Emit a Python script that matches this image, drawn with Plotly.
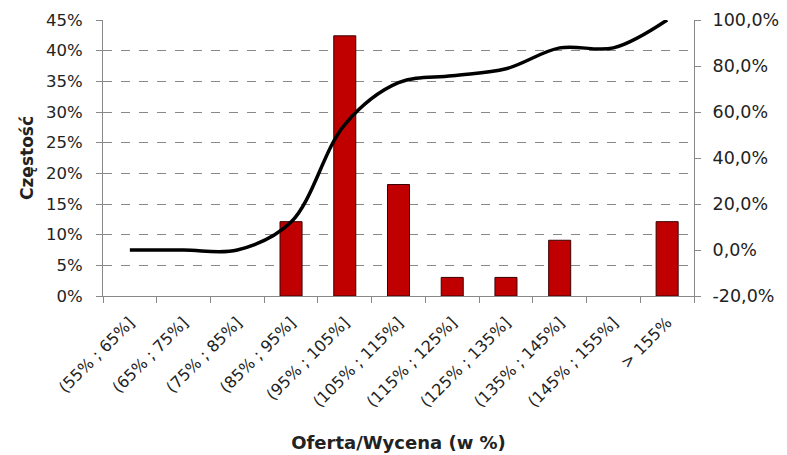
import plotly.graph_objects as go

categories = ["(55% ; 65%]", "(65% ; 75%]", "(75% ; 85%]", "(85% ; 95%]",
              "(95% ; 105%]", "(105% ; 115%]", "(115% ; 125%]", "(125% ; 135%]",
              "(135% ; 145%]", "(145% ; 155%]", "> 155%"]
# frequency of each offer/valuation bracket (share of 33 cases)
frequency = [0.0, 0.0, 0.0, 0.1212, 0.4242, 0.1818, 0.0303, 0.0303, 0.0909, 0.0, 0.1212]
# cumulative share
cumulative = [0.0, 0.0, 0.0, 0.1212, 0.5455, 0.7273, 0.7576, 0.7879, 0.8788, 0.8788, 1.0]

left_ticks = [i * 0.05 for i in range(10)]
left_labels = [f"{i * 5}%" for i in range(10)]
right_ticks = [-0.2, 0.0, 0.2, 0.4, 0.6, 0.8, 1.0]
right_labels = ["-20,0%", "0,0%", "20,0%", "40,0%", "60,0%", "80,0%", "100,0%"]

font_family = "'DejaVu Sans', sans-serif"

# empty brackets get no outline so nothing is drawn on the baseline
outline_widths = [1 if v > 0 else 0 for v in frequency]

fig = go.Figure()
fig.add_trace(go.Bar(
    x=categories, y=frequency,
    marker=dict(color="#C00000", line=dict(color="#3a0000", width=outline_widths)),
    yaxis="y", showlegend=False,
))
fig.add_trace(go.Scatter(
    x=categories, y=cumulative, mode="lines",
    line=dict(color="black", width=3.5, shape="spline", smoothing=1.0),
    yaxis="y2", showlegend=False,
))

fig.update_layout(
    width=787, height=455,
    margin=dict(l=103, r=93, t=20, b=159),
    paper_bgcolor="white", plot_bgcolor="white",
    bargap=0.59,
    font=dict(family=font_family, size=17, color="#222"),
    xaxis=dict(
        type="category", tickson="boundaries", ticks="outside", ticklen=6,
        tickcolor="#888", showline=True, linecolor="#888", linewidth=1,
        tickangle=-45, showgrid=False, tickfont=dict(size=16),
        ticklabelstandoff=10, automargin=False,
        title=dict(text="<b>Oferta/Wycena (w %)</b>", font=dict(size=18), standoff=26),
    ),
    yaxis=dict(
        range=[0, 0.45], tickvals=left_ticks, ticktext=left_labels,
        ticks="outside", ticklen=6, tickcolor="#888",
        showline=True, linecolor="#888", linewidth=1,
        showgrid=True, gridcolor="#888", griddash="dash", gridwidth=1,
        zeroline=False, tickfont=dict(size=16.5), ticklabelstandoff=10,
        automargin=False,
        title=dict(text="<b>Częstość</b>", font=dict(size=17), standoff=8),
    ),
    yaxis2=dict(
        range=[-0.2, 1.0], tickvals=right_ticks, ticktext=right_labels,
        overlaying="y", side="right",
        ticks="outside", ticklen=6, tickcolor="#888",
        showline=True, linecolor="#888", linewidth=1,
        showgrid=False, zeroline=False, tickfont=dict(size=17.5),
        ticklabelstandoff=8, automargin=False,
    ),
)

fig.write_html("out.html")
